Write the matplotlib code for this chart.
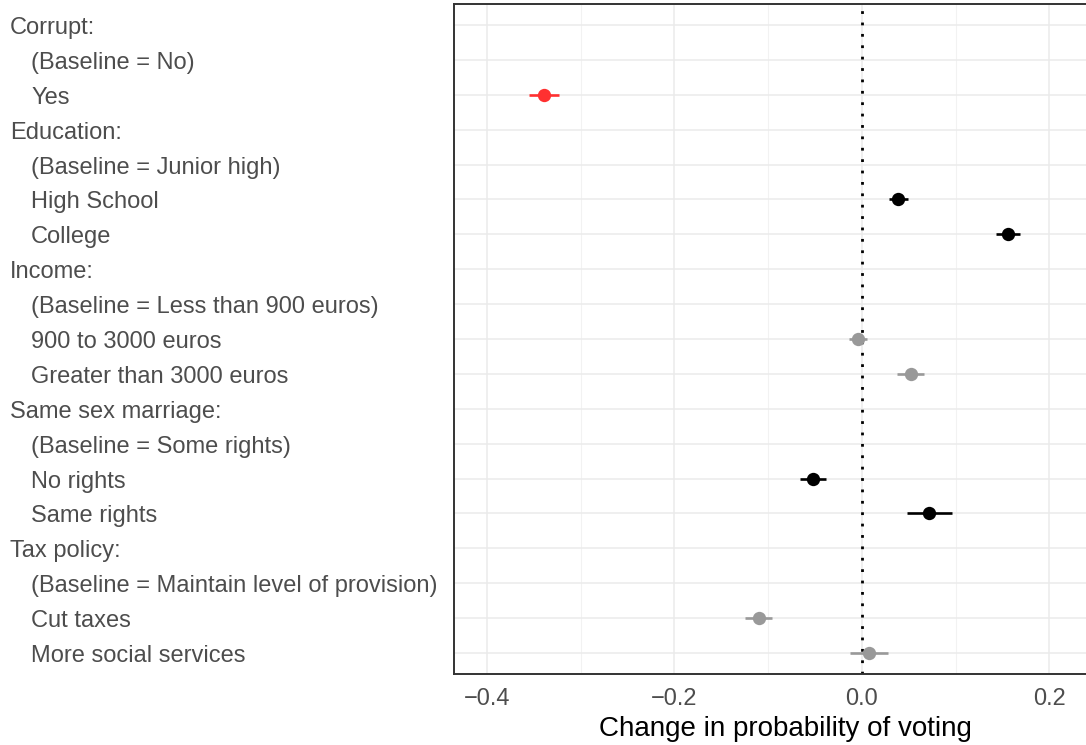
import matplotlib
matplotlib.use("Agg")
import matplotlib.pyplot as plt
from matplotlib.ticker import MultipleLocator
from matplotlib.transforms import blended_transform_factory, ScaledTranslation

plt.rcParams['font.family'] = ['Liberation Sans', 'DejaVu Sans']

# row labels, top to bottom; headers are flush left, levels are indented
labels = [
    "Corrupt:", "(Baseline = No)", "Yes",
    "Education:", "(Baseline = Junior high)", "High School", "College",
    "Income:", "(Baseline = Less than 900 euros)", "900 to 3000 euros", "Greater than 3000 euros",
    "Same sex marriage:", "(Baseline = Some rights)", "No rights", "Same rights",
    "Tax policy:", "(Baseline = Maintain level of provision)", "Cut taxes", "More social services",
]
is_header = [lab.endswith(":") for lab in labels]

# estimated effects (AMCE) and error bar half-widths
terms = ["Yes", "High School", "College", "900 to 3000 euros", "Greater than 3000 euros",
         "No rights", "Same rights", "Cut taxes", "More social services"]
estimate = [-0.339, 0.039, 0.156, -0.004, 0.052, -0.052, 0.072, -0.110, 0.0075]
half_ci = [0.016, 0.0105, 0.013, 0.010, 0.0145, 0.0135, 0.024, 0.0145, 0.0205]
colours = ["#FF3030", "black", "black", "#999999", "#999999",
           "black", "black", "#999999", "#999999"]

x_ticks = [-0.4, -0.2, 0.0, 0.2]

W, H = 1086, 745
fig = plt.figure(figsize=(W / 100, H / 100), dpi=100)
# panel runs a little past the right edge of the figure
left_px, right_px, top_px, bottom_px = 453.6, 1118, 4, 674
ax = fig.add_axes([left_px / W, 1 - bottom_px / H,
                   (right_px - left_px) / W, (bottom_px - top_px) / H])

n = len(labels)
ypos = {lab: n - 1 - i for i, lab in enumerate(labels)}

ax.axvline(0, color="black", lw=2.0, linestyle=(0, (1, 3.1)), zorder=2)

for term, est, hw, col in zip(terms, estimate, half_ci, colours):
    y = ypos[term]
    ax.plot([est - hw, est + hw], [y, y], color=col, lw=1.9, solid_capstyle="butt", zorder=3)
    ax.plot(est, y, "o", color=col, ms=9.6, mec="none", zorder=4)

ax.set_xlim(-0.4356, 0.2733)
ax.set_ylim(-0.6, n - 0.4)
ax.set_xticks(x_ticks)
ax.xaxis.set_minor_locator(MultipleLocator(0.1))
ax.set_xticklabels([f"{v:.1f}".replace("-", "\u2212") for v in x_ticks],
                   fontsize=17, color="#4D4D4D")
ax.set_yticks(range(n))
ax.set_yticklabels([])
ax.tick_params(which="both", length=0)
ax.tick_params(axis="x", pad=10)
ax.grid(which="major", color="#EBEBEB", lw=1.1, zorder=0)
ax.grid(which="minor", axis="x", color="#F2F2F2", lw=0.8, zorder=0)
ax.set_axisbelow(True)

for side in ["left", "top", "bottom"]:
    ax.spines[side].set_color("#333333")
    ax.spines[side].set_linewidth(1.4)
ax.spines["right"].set_visible(False)

# axis title centred under the full panel
fig.text((left_px + right_px) / 2 / W, 1 - 729 / H, "Change in probability of voting",
         ha="center", va="center", fontsize=20, color="black")

trans = blended_transform_factory(fig.transFigure, ax.transData)
nudge = ScaledTranslation(0, -3 / 100, fig.dpi_scale_trans)
for lab, head in zip(labels, is_header):
    xpix = 10 if head else 31
    ax.text(xpix / W, ypos[lab], lab, transform=trans + nudge, ha="left", va="center",
            fontsize=17, color="#4D4D4D", clip_on=False)

fig.savefig("out.png", dpi=100)
